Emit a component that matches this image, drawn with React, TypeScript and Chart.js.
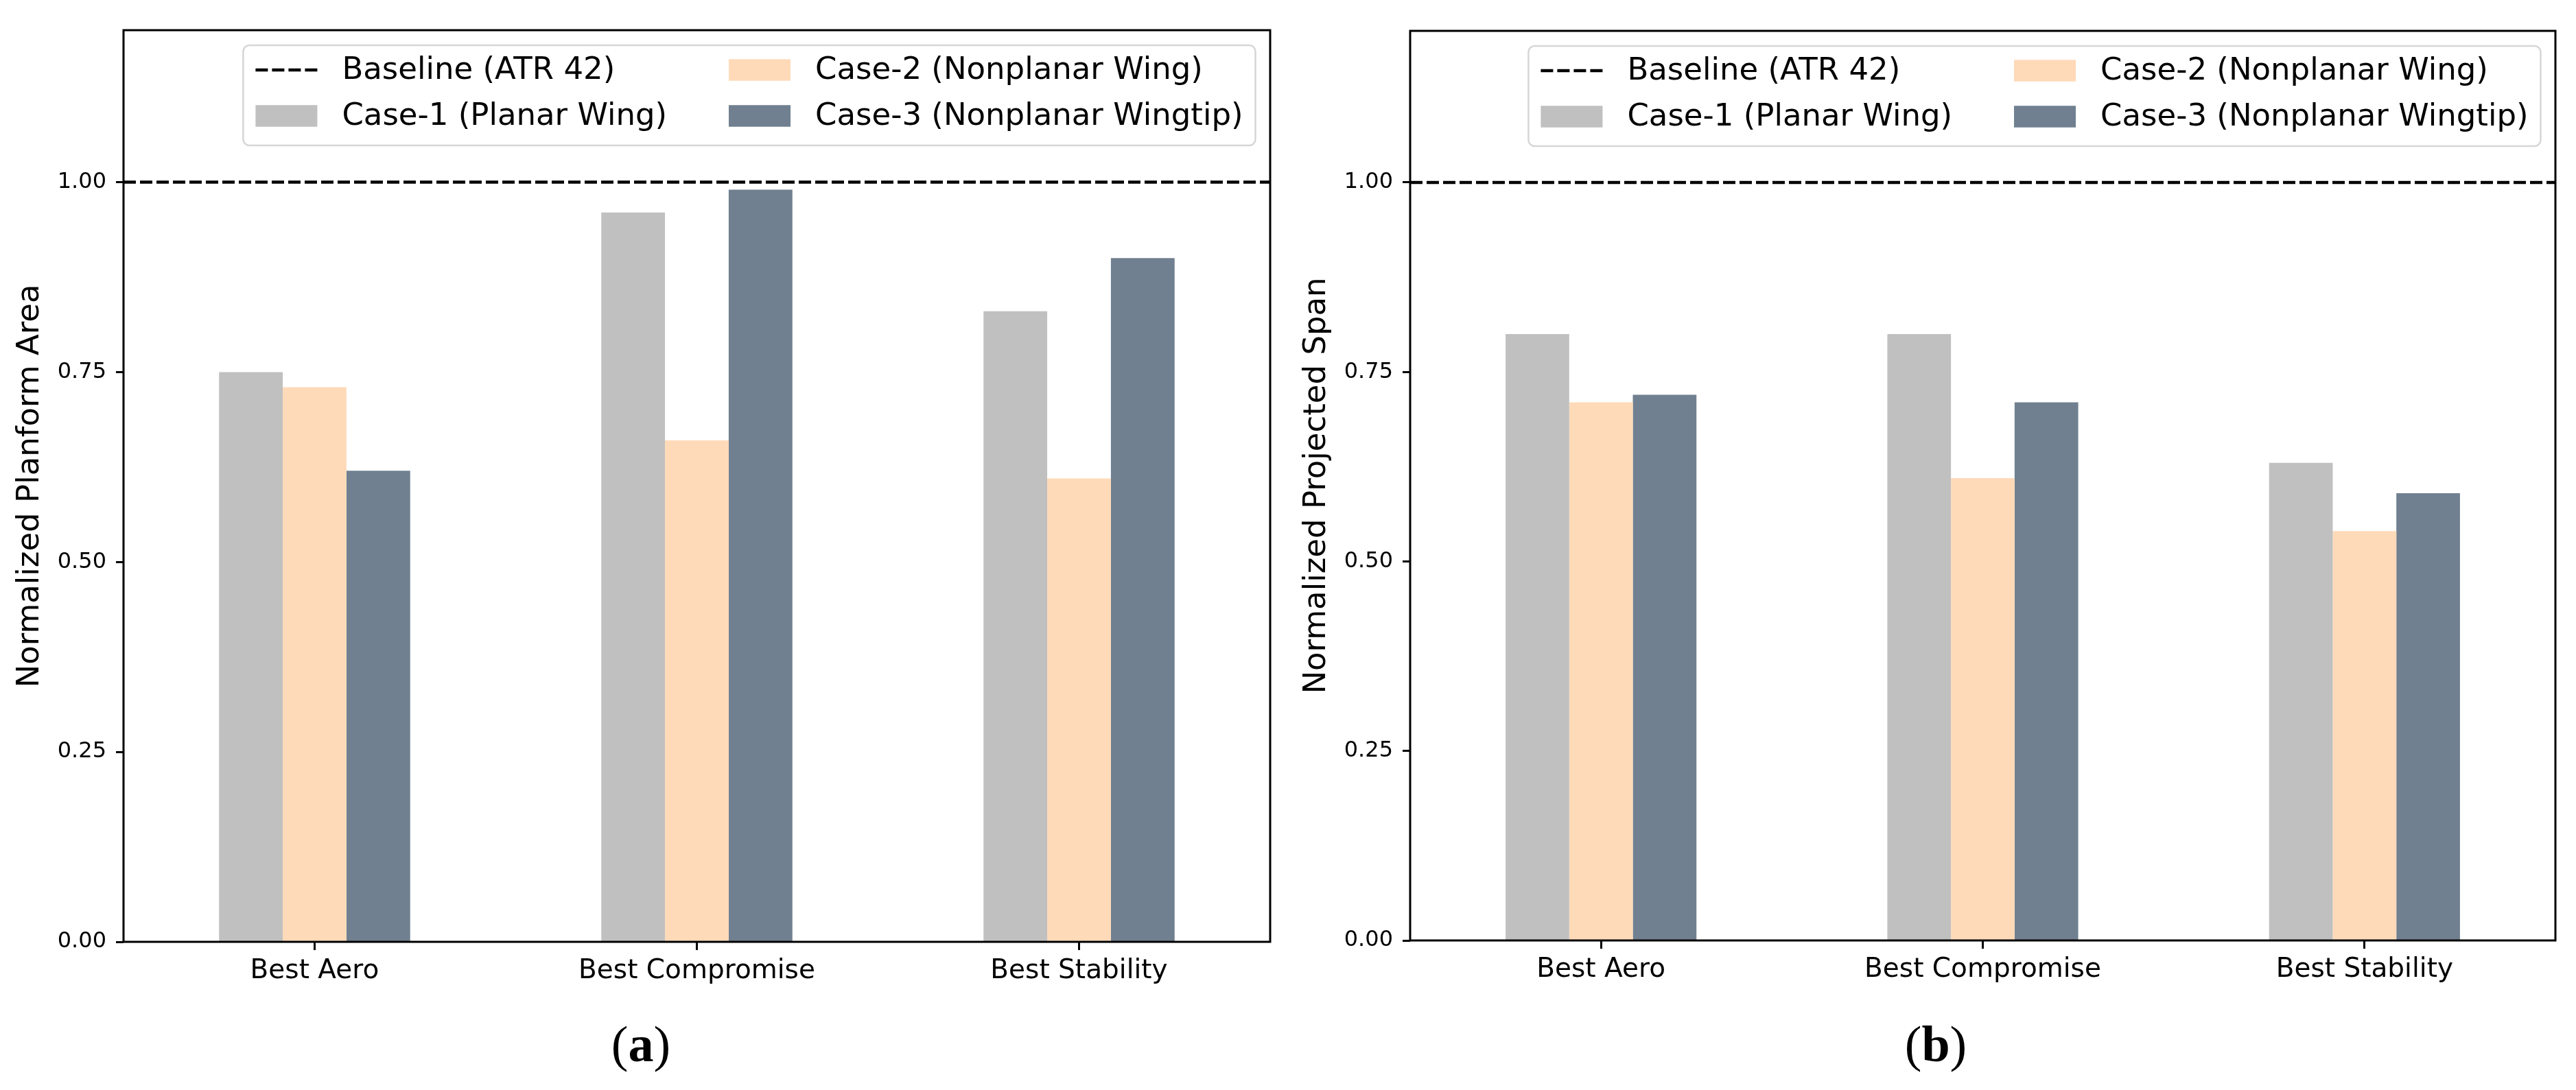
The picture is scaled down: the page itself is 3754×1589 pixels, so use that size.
import React, { useEffect, useRef } from 'react';
import { Chart, registerables } from 'chart.js';

Chart.register(...registerables);

// ---------------- data ----------------
const categories = ['Best Aero', 'Best Compromise', 'Best Stability'];
const baselineLabel = 'Baseline (ATR 42)';
const baselineValue = 1.0;
const seriesLabels = ['Case-1 (Planar Wing)', 'Case-2 (Nonplanar Wing)', 'Case-3 (Nonplanar Wingtip)'];
const seriesColors = ['#c0c0c0', '#ffdab9', '#708090'];

const areaCase1 = [0.75, 0.96, 0.83];
const areaCase2 = [0.73, 0.66, 0.61];
const areaCase3 = [0.62, 0.99, 0.9];

const spanCase1 = [0.8, 0.8, 0.63];
const spanCase2 = [0.71, 0.61, 0.54];
const spanCase3 = [0.72, 0.71, 0.59];

const yTicks = [0, 0.25, 0.5, 0.75, 1.0];
const yMin = 0;
const yMax = 1.2;

// ---------------- style ----------------
const FONT = '"DejaVu Sans", sans-serif';
const LEGEND_F = 45;
const BASE_DASH = [18, 6];
const BASE_LW = 4.5;

const framePlugin = {
  id: 'frameBox',
  afterDatasetsDraw(chart: any) {
    const { ctx, chartArea } = chart;
    const y = chart.scales.y.getPixelForValue(baselineValue);
    ctx.save();
    // baseline (dashed, across the whole axes)
    ctx.beginPath();
    ctx.setLineDash(BASE_DASH);
    ctx.lineWidth = BASE_LW;
    ctx.strokeStyle = '#000';
    ctx.moveTo(chartArea.left, y);
    ctx.lineTo(chartArea.right, y);
    ctx.stroke();
    ctx.setLineDash([]);
    // frame
    ctx.strokeStyle = '#000';
    ctx.lineWidth = 3;
    ctx.strokeRect(chartArea.left, chartArea.top, chartArea.right - chartArea.left, chartArea.bottom - chartArea.top);
    ctx.restore();
  },
};

const legendPlugin = {
  id: 'mplLegend',
  afterDraw(chart: any) {
    const { ctx, chartArea } = chart;
    const F = LEGEND_F;
    const ds = chart.data.datasets;
    ctx.save();
    ctx.font = `${F}px ${FONT}`;
    const items: any[] = [{ label: baselineLabel, isLine: true, color: '#000' }].concat(
      ds.map((d: any) => ({ label: d.label, isLine: false, color: d.backgroundColor }))
    );
    const cols = [items.slice(0, 2), items.slice(2, 4)];
    const colW = cols.map((c) => Math.max(...c.map((it: any) => ctx.measureText(it.label).width)));
    const pad = 0.4 * F;
    const hl = 2 * F;
    const htp = 0.8 * F;
    const cs = 2 * F;
    const width = 2 * pad + 2 * (hl + htp) + cs + colW[0] + colW[1];
    const height = 146;
    const right = chartArea.right - 0.5 * F + 1;
    const top = chartArea.top + 22;
    const left = right - width;

    ctx.beginPath();
    (ctx as any).roundRect(left, top, width, height, 9);
    ctx.fillStyle = 'rgba(255,255,255,0.8)';
    ctx.fill();
    ctx.lineWidth = 2.5;
    ctx.strokeStyle = '#d6d6d6';
    ctx.stroke();

    const rowY = [top + 36, top + 103];
    let x = left + pad;
    cols.forEach((col, ci) => {
      col.forEach((it: any, ri: number) => {
        const cy = rowY[ri];
        if (it.isLine) {
          ctx.beginPath();
          ctx.setLineDash(BASE_DASH);
          ctx.lineWidth = BASE_LW;
          ctx.strokeStyle = it.color;
          ctx.moveTo(x, cy);
          ctx.lineTo(x + hl, cy);
          ctx.stroke();
          ctx.setLineDash([]);
        } else {
          ctx.fillStyle = it.color;
          const h = 0.7 * F;
          ctx.fillRect(x, cy - h / 2, hl, h);
        }
        ctx.fillStyle = '#000';
        ctx.textBaseline = 'middle';
        ctx.textAlign = 'left';
        ctx.fillText(it.label, x + hl + htp, cy + 1);
      });
      x += hl + htp + colW[ci] + cs;
    });
    ctx.restore();
  },
};

type Dims = {
  width: number;
  height: number;
  yAxisW: number;
  xAxisH: number;
  padTop: number;
  padRight: number;
  titlePad: number;
};

function makeConfig(c1: number[], c2: number[], c3: number[], yTitle: string, d: Dims): any {
  const tickGrid = {
    display: true,
    drawOnChartArea: false,
    drawTicks: true,
    tickWidth: 3,
    tickColor: '#000',
    offset: false,
  };
  return {
    type: 'bar',
    data: {
      labels: categories,
      datasets: [
        { label: seriesLabels[0], data: c1, backgroundColor: seriesColors[0] },
        { label: seriesLabels[1], data: c2, backgroundColor: seriesColors[1] },
        { label: seriesLabels[2], data: c3, backgroundColor: seriesColors[2] },
      ],
    },
    options: {
      responsive: false,
      animation: false,
      devicePixelRatio: 1,
      layout: { padding: { top: d.padTop, right: d.padRight, left: 0, bottom: 0 } },
      datasets: {
        bar: { categoryPercentage: 0.5, barPercentage: 1.0, borderWidth: 0 },
      },
      plugins: {
        legend: { display: false },
        tooltip: { enabled: false },
      },
      scales: {
        x: {
          type: 'category',
          offset: true,
          grid: { ...tickGrid, tickLength: 12 },
          border: { display: false },
          ticks: {
            color: '#000',
            font: { family: FONT, size: 39 },
            padding: 7,
            maxRotation: 0,
            autoSkip: false,
          },
          afterFit: (s: any) => {
            s.height = d.xAxisH;
          },
        },
        y: {
          type: 'linear',
          min: yMin,
          max: yMax,
          afterBuildTicks: (s: any) => {
            s.ticks = yTicks.map((v) => ({ value: v }));
          },
          grid: { ...tickGrid, tickLength: 11 },
          border: { display: false },
          ticks: {
            color: '#000',
            font: { family: FONT, size: 32 },
            padding: 14,
            callback: (v: any) => Number(v).toFixed(2),
          },
          title: {
            display: true,
            text: yTitle,
            color: '#000',
            font: { family: FONT, size: 45, lineHeight: 1 },
            padding: { top: d.titlePad, bottom: 0 },
          },
          afterFit: (s: any) => {
            s.width = d.yAxisW;
          },
        },
      },
    },
    plugins: [framePlugin, legendPlugin],
  };
}

function Panel(props: { c1: number[]; c2: number[]; c3: number[]; yTitle: string; left: number; dims: Dims }) {
  const ref = useRef<HTMLCanvasElement | null>(null);
  useEffect(() => {
    if (!ref.current) return;
    const chart = new Chart(ref.current, makeConfig(props.c1, props.c2, props.c3, props.yTitle, props.dims));
    return () => chart.destroy();
  }, []);
  return (
    <canvas
      ref={ref}
      width={props.dims.width}
      height={props.dims.height}
      style={{ position: 'absolute', left: props.left, top: 0, width: props.dims.width, height: props.dims.height }}
    />
  );
}

function SubLabel(props: { letter: string; cx: number }) {
  return (
    <div
      style={{
        position: 'absolute',
        left: props.cx - 150,
        width: 300,
        top: 1485,
        textAlign: 'center',
        fontFamily: '"Liberation Serif", "DejaVu Serif", serif',
        fontSize: 74,
        lineHeight: 1,
        color: '#000',
      }}
    >
      (<b>{props.letter}</b>)
    </div>
  );
}

export default function App() {
  const leftDims: Dims = { width: 1880, height: 1460, yAxisW: 180, xAxisH: 87, padTop: 44, padRight: 29, titlePad: 22 };
  const rightDims: Dims = { width: 1874, height: 1460, yAxisW: 175, xAxisH: 89, padTop: 45, padRight: 30, titlePad: 17 };
  return (
    <div style={{ position: 'absolute', left: 0, top: 0, width: 3754, height: 1589, background: '#fff', overflow: 'hidden' }}>
      <Panel c1={areaCase1} c2={areaCase2} c3={areaCase3} yTitle="Normalized Planform Area" left={0} dims={leftDims} />
      <Panel c1={spanCase1} c2={spanCase2} c3={spanCase3} yTitle="Normalized Projected Span" left={1880} dims={rightDims} />
      <SubLabel letter="a" cx={934} />
      <SubLabel letter="b" cx={2821} />
    </div>
  );
}
